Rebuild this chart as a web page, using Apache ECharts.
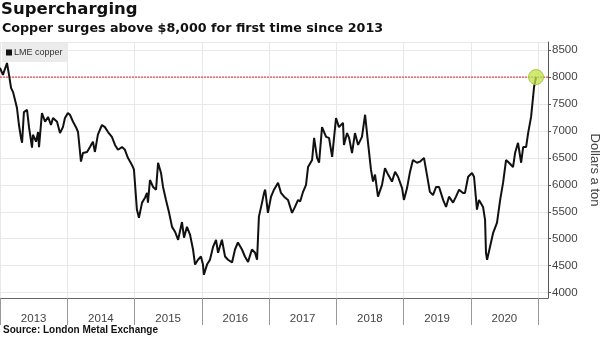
<!DOCTYPE html>
<html><head><meta charset="utf-8">
<script src="https://cdn.jsdelivr.net/npm/echarts@6/dist/echarts.min.js"></script>
<style>html,body{margin:0;padding:0;background:#fff}#c{width:600px;height:337px}</style>
</head><body><div id="c"></div>
<script>
const titleText = 'Supercharging';
const subtitleText = 'Copper surges above $8,000 for first time since 2013';
const sourceText = 'Source: London Metal Exchange';
const seriesName = 'LME copper';
const yAxisName = 'Dollars a ton';
const yearLabels = ['2013','2014','2015','2016','2017','2018','2019','2020'];
const dates = [
'2013-01-01','2013-01-17','2013-02-08','2013-02-19','2013-03-02','2013-03-13','2013-03-24','2013-04-03','2013-04-14','2013-04-25',
'2013-05-01','2013-05-11','2013-05-28','2013-06-08','2013-06-24','2013-06-29','2013-07-16','2013-07-27','2013-08-01','2013-08-17',
'2013-09-03','2013-09-19','2013-10-05','2013-10-16','2013-11-07','2013-11-23','2013-12-09','2013-12-20','2014-01-05','2014-01-16',
'2014-02-02','2014-02-18','2014-03-01','2014-03-17','2014-03-28','2014-04-19','2014-05-05','2014-05-21','2014-06-01','2014-06-17',
'2014-07-09','2014-07-25','2014-08-11','2014-09-01','2014-09-18','2014-10-04','2014-10-26','2014-11-11','2014-11-27','2014-12-19',
'2014-12-30','2015-01-15','2015-01-26','2015-02-12','2015-02-28','2015-03-11','2015-03-16','2015-03-27','2015-04-13','2015-04-29',
'2015-05-10','2015-05-26','2015-06-06','2015-06-22','2015-07-09','2015-07-25','2015-08-10','2015-08-27','2015-09-17','2015-09-28',
'2015-10-14','2015-10-31','2015-11-16','2015-11-27','2015-12-13','2015-12-29','2016-01-09','2016-01-14','2016-01-31','2016-02-16',
'2016-03-04','2016-03-20','2016-03-31','2016-04-21','2016-05-08','2016-05-24','2016-06-15','2016-07-01','2016-07-17','2016-08-08',
'2016-08-24','2016-09-10','2016-10-01','2016-10-18','2016-10-29','2016-11-08','2016-11-25','2016-12-06','2016-12-12','2016-12-27',
'2017-01-13','2017-01-29','2017-02-20','2017-03-08','2017-03-25','2017-04-15','2017-05-07','2017-05-23','2017-06-09','2017-06-20',
'2017-07-06','2017-07-22','2017-08-02','2017-08-24','2017-09-04','2017-09-20','2017-10-01','2017-10-17','2017-11-08','2017-11-24',
'2017-12-11','2018-01-01','2018-01-17','2018-02-08','2018-02-13','2018-03-02','2018-03-13','2018-03-29','2018-04-14','2018-05-01',
'2018-05-22','2018-06-08','2018-06-24','2018-07-10','2018-07-21','2018-08-01','2018-08-17','2018-09-08','2018-09-24','2018-10-11',
'2018-11-01','2018-11-18','2018-12-04','2018-12-26','2019-01-05','2019-01-22','2019-02-07','2019-02-23','2019-03-17','2019-04-02',
'2019-04-24','2019-05-10','2019-05-26','2019-06-12','2019-06-29','2019-07-15','2019-08-06','2019-08-22','2019-09-07','2019-09-29',
'2019-10-15','2019-11-01','2019-11-22','2019-12-03','2019-12-20','2020-01-10','2020-01-21','2020-02-06','2020-02-17','2020-03-10',
'2020-03-21','2020-03-26','2020-04-01','2020-04-17','2020-05-04','2020-05-25','2020-06-11','2020-06-27','2020-07-13','2020-07-29',
'2020-08-20','2020-08-31','2020-09-16','2020-10-03','2020-10-14','2020-10-30','2020-11-10','2020-11-26','2020-12-07','2020-12-12',
'2020-12-23'
];
const prices = [
8170,8040,8260,8040,7800,7720,7570,7430,7110,6870,
6780,7350,7390,7060,6690,6930,6800,6980,6700,7330,
7170,7260,7110,7240,7170,6960,7070,7240,7330,7300,
7170,7070,6980,6430,6590,6610,6700,6800,6610,6930,
7110,7070,6980,6890,6740,6650,6700,6650,6500,6370,
6280,5540,5390,5670,5760,5850,5670,6090,5960,5910,
6410,6220,5960,5720,5480,5220,5130,4980,5310,5020,
5220,5070,4800,4520,4610,4670,4520,4330,4520,4610,
4850,4980,4740,4980,4670,4610,4560,4800,4930,4800,
4670,4570,4800,4740,4610,5410,5670,5850,5910,5480,
5780,5910,6040,5850,5780,5720,5480,5590,5720,5690,
5870,6000,6330,6460,6870,6500,6410,7070,6890,6870,
6520,7240,7070,7150,6740,6960,6870,6590,6960,6740,
6890,7300,6780,6280,6060,6190,5780,6000,6310,6190,
6060,6240,6150,5940,5720,5940,6240,6460,6410,6430,
6500,6190,5870,5810,5960,5960,5720,5590,5780,5670,
5780,5910,5850,5850,6150,6220,6150,5540,5720,5590,
5350,4740,4610,4850,5110,5300,5720,6040,6460,6410,
6330,6590,6780,6410,6700,6700,6960,7260,7630,7810,
8000
];
const thresholdValue = 8000;
const xMin = '2013-01-01';
const xMax = '2021-02-26';
const yMin = 3900, yMax = 8650;

const ts = d => Date.parse(d + 'T00:00:00Z');
const seriesData = dates.map((d, i) => [ts(d), prices[i]]);
const thresholdData = [[ts(xMin), thresholdValue], [ts(xMax), thresholdValue]];
const chart = echarts.init(document.getElementById('c'), null, {renderer: 'canvas'});
const F = '"Liberation Sans", Arial, sans-serif';
const FT = '"DejaVu Sans", sans-serif';
chart.setOption({
  animation: false,
  backgroundColor: '#fff',
  title: [
    {text: titleText, left: 1, top: 1, padding: 0, textStyle: {fontFamily: FT, fontSize: 16.5, fontWeight: 'bold', color: '#111'}},
    {text: subtitleText, left: 2, top: 22, padding: 0, textStyle: {fontFamily: FT, fontSize: 12.7, fontWeight: 'bold', color: '#111'}},
    {text: sourceText, left: 3, top: 325, padding: 0, textStyle: {fontFamily: F, fontSize: 10, fontWeight: 'bold', color: '#111'}}
  ],
  legend: {
    data: [seriesName], left: 2, top: 43, icon: 'rect', itemWidth: 6, itemHeight: 6, itemGap: 2,
    backgroundColor: '#ebebeb', padding: [5, 5, 5, 4],
    textStyle: {fontFamily: F, fontSize: 9, color: '#333', padding: [0,0,0,-3]}
  },
  grid: [
    {left: 0, right: 52, top: 42, bottom: 39, containLabel: false, outerBoundsMode: 'none'},
    {left: 0, right: 62, top: 42, bottom: 39, containLabel: false, outerBoundsMode: 'none'}
  ],
  xAxis: [
    {type: 'value', gridIndex: 0, min: ts(xMin), max: ts(xMax), scale: true,
     axisLine: {show: true, onZero: false, lineStyle: {color: '#666', width: 1}},
     axisTick: {show: false}, axisLabel: {show: false}, splitLine: {show: false}},
    {type: 'category', gridIndex: 1, data: yearLabels, boundaryGap: true,
     axisLine: {show: false},
     axisTick: {show: true, length: 27, lineStyle: {color: '#999'}},
     axisLabel: {margin: 15, fontFamily: F, fontSize: 11.5, color: '#444'},
     splitLine: {show: true, lineStyle: {color: '#e8e8e8', width: 1}}}
  ],
  yAxis: [
    {type: 'value', gridIndex: 0, position: 'right', min: yMin, max: yMax, splitNumber: 9,
     axisLine: {show: true, lineStyle: {color: '#555'}},
     axisTick: {show: true, length: 3, lineStyle: {color: '#555'}},
     axisLabel: {margin: 4, fontFamily: F, fontSize: 11.5, color: '#444', showMinLabel: false, showMaxLabel: false,
       formatter: v => String(v)},
     splitLine: {show: true, lineStyle: {color: '#e8e8e8', width: 1}},
     name: yAxisName, nameLocation: 'middle', nameRotate: -90, nameGap: 37,
     nameTextStyle: {fontFamily: F, fontSize: 13, color: '#444'}},
    {type: 'value', gridIndex: 1, show: false}
  ],
  series: [
    {name: '8000 line', type: 'line', xAxisIndex: 0, yAxisIndex: 0, data: thresholdData,
     showSymbol: false, silent: true, color: '#e84848', z: 1,
     lineStyle: {color: '#e84848', type: [2, 1], width: 1.2}},
    {name: seriesName, type: 'line', xAxisIndex: 0, yAxisIndex: 0,
     data: seriesData, showSymbol: false, color: '#111', z: 2,
     lineStyle: {color: '#111', width: 2},
     markPoint: {silent: true, symbol: 'circle', symbolSize: 15, label: {show: false},
       itemStyle: {color: 'rgba(190,225,70,0.75)', borderColor: '#a9c845', borderWidth: 1},
       data: [{coord: [ts(dates[dates.length - 1]), thresholdValue]}]}}
  ]
});
</script></body></html>
